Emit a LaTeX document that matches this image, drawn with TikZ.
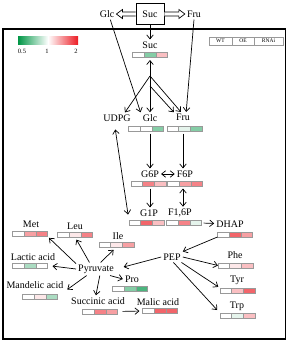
\documentclass[tikz,border=0pt]{standalone}
\usepackage{fontspec}
\setmainfont{Liberation Serif}
\usepackage{xcolor}
\usepackage{tikz}
\usetikzlibrary{arrows,arrows.meta,shapes,positioning,calc}

\definecolor{hired}{RGB}{236,28,36}
\definecolor{logreen}{RGB}{0,150,70}
\colorlet{r1}{hired!10}
\colorlet{r2}{hired!28}
\colorlet{r3}{hired!42}
\colorlet{r4}{hired!55}
\colorlet{r5}{hired!68}
\colorlet{g1}{logreen!10}
\colorlet{g2}{logreen!33}
\colorlet{g3}{logreen!48}
\colorlet{g4}{logreen!70}

\tikzset{
  lbl/.style={font=\fontsize{10}{12}\selectfont, inner sep=2pt},
  small lbl/.style={font=\fontsize{6.5}{8}\selectfont, inner sep=1pt},
  cell/.style={draw=gray!80, line width=0.4pt, minimum width=11.7pt,
    minimum height=5pt, inner sep=0pt, outer sep=0pt},
  keycell/.style={draw=gray!80, line width=0.5pt, minimum height=8pt,
    inner sep=0pt, outer sep=0pt, font=\fontsize{5.5}{6}\selectfont},
  arr/.style={-{Straight Barb[length=4pt,width=6.5pt]}, line width=0.7pt},
  darr/.style={{Straight Barb[length=4pt,width=6.5pt]}-{Straight Barb[length=4pt,width=6.5pt]}, line width=0.7pt},
  hollow/.style={line width=0.7pt, fill=white},
}

% barra de tres celulas: nome, centro, cores
\newcommand{\heatbar}[5]{%
  \node[cell,fill=#4] (#1-2) at (#2) {};
  \node[cell,fill=#3,left=0pt of #1-2] (#1-1) {};
  \node[cell,fill=#5,right=0pt of #1-2] (#1-3) {};
}

\begin{document}
\begin{tikzpicture}[x=1pt,y=-1pt]
        \useasboundingbox (0,0) rectangle (288,341);
        % moldura
        \draw[line width=1.1pt] (3,29) rectangle (285.5,339);
        % escala de cor
        \shade[left color=logreen, right color=white] (18,36) rectangle (48,44);
        \shade[left color=white, right color=hired] (48,36) rectangle (78,44);
        \foreach \n/\x/\t in {k05/22/0.5, k1/47/1, k2/76/2} {
          \node[small lbl] (\n) at (\x,51) {\t};
        }
        % legenda das linhas
        \node[keycell, draw, minimum width=23pt] (wt) at (220.5,41) {WT};
        \node[keycell, draw, minimum width=22pt, right=0pt of wt] (oe) {OE};
        \node[keycell, draw, minimum width=29pt, right=0pt of oe] (rnai) {RNAi};
        % sacarose externa
        \node[lbl, draw, line width=0.7pt, minimum width=28pt, minimum height=21pt] (sucout) at (150,14) {Suc};
        \node[lbl] (glcout) at (107,14) {Glc};
        \node[lbl] (fruout) at (194,14) {Fru};
        \draw[hollow] ($(sucout.west)+(0,-2)$) -- ($(glcout.east)+(6,-2)$) -- ++(0,-2.5)
          -- (glcout.east) -- ($(glcout.east)+(6,4.5)$) -- ++(0,-2.5) -- ($(sucout.west)+(0,2)$);
        \draw[hollow] ($(sucout.east)+(0,-2)$) -- ($(fruout.west)+(-6,-2)$) -- ++(0,-2.5)
          -- (fruout.west) -- ($(fruout.west)+(-6,4.5)$) -- ++(0,-2.5) -- ($(sucout.east)+(0,2)$);
        % metabolitos
        \foreach \n/\x/\y/\t in {suc/150/45/Suc, udpg/117/118/UDPG, glc/150/118/Glc,
            fru/183/117.5/Fru, g6p/150/174/G6P, f6p/185/174/F6P, g1p/149/213/G1P,
            f16p/180/213/{F1,6P}, dhap/230/224/DHAP, pep/172/257/PEP, phe/235/255/Phe,
            tyr/237/280/Tyr, trp/237/306/Trp, met/31/224/Met, leu/75/226/Leu,
            ile/118/236/Ile, lac/33/257/Lactic acid, mand/35/285/Mandelic acid,
            pyr/96/269/Pyruvate, pro/132/279/Pro, succ/98/301/Succinic acid,
            mal/158/302/Malic acid} {
          \node[lbl] (\n) at (\x,\y) {\t};
        }
        % barras WT / OE / RNAi
        \foreach \n/\x/\y/\a/\b/\c in {sucbar/150/54.5/white/g3/r2,
            glcbar/146/129/white/white/g3, frubar/184.5/129/white/g1/g3,
            g6pbar/148.5/184/white/r4/r2, f6pbar/185/184/white/r3/r4,
            g1pbar/146.5/223/white/r5/r2, f16pbar/184/223/white/r4/g1,
            dhapbar/235/234.5/white/r5/r3, phebar/235.5/265.5/white/r1/r2,
            tyrbar/237.5/290.5/white/r2/r5, trpbar/237.5/315.5/white/g1/r2,
            metbar/30/234/white/r3/r4, leubar/75/234.5/white/r1/r4,
            ilebar/116.5/244.5/white/r1/r3, lacbar/30/265.5/white/g2/white,
            mandbar/40/296.5/white/r1/g2, probar/130/288.5/white/g3/g4,
            succbar/100/311.5/white/r4/r3, malbar/160/311/white/r5/r5} {
          \heatbar{\n}{\x,\y}{\a}{\b}{\c}
        }
        % entrada de acucares
        \draw[arr] (sucout) -- (suc);
        \draw[arr] (glcout.-60) -- (glc.north west);
        \draw[arr] (fruout.south) -- (fru.60);
        % quebra da sacarose
        \coordinate (sus) at (150,76);
        \coordinate (inv) at (150,86);
        \draw[arr, shorten >=3pt] (sus) -- (sucbar-2.south);
        \draw[arr] (sus) -- (glc);
        \draw[arr] (sus) -- (udpg.35);
        \draw[arr] (sus) -- (fru.110);
        \draw[arr] (inv) -- (fru.150);
        % glicolise
        \draw[arr, shorten <=2pt] (glcbar-2.south -| glc) -- (g6p);
        \draw[arr, shorten <=2pt] (frubar-2.south -| fru) -- (fru |- f6p.north);
        \draw[darr] (g6p) -- (f6p);
        \draw[arr, shorten <=2pt] (g6pbar-2.south -| g6p) -- (g6p |- g1p.north);
        \draw[darr, shorten <=2pt] (f6pbar-2.south -| fru) -- (fru |- f16p.north);
        \draw[darr, shorten <=6pt, shorten >=6pt] (udpg.-115) -- (g1pbar-1.north west);
        \draw[arr, shorten <=2pt] (f16pbar-3.east) -- (dhap);
        \draw[arr] (dhapbar-1.south west) -- (pep.north east);
        % PEP
        \draw[arr, shorten >=8pt] (pep.west) -- (pyr.east);
        \draw[arr] (pep.east) -- (phebar-1.west);
        \draw[arr, shorten >=2pt] (pep.-30) -- (tyrbar-1.north west);
        \draw[arr, shorten >=4pt] (pep.-75) -- (trpbar-1.north west);
        % piruvato
        \draw[arr, shorten >=2pt] (pyr.165) -- (metbar-3.south east);
        \draw[arr, shorten >=3pt] (pyr.135) -- (leubar-2.south);
        \draw[arr, shorten >=5pt] (pyr.west) -- (lacbar-3.east);
        \draw[arr, shorten >=4pt] (pyr.55) -- (ilebar-2.south);
        \draw[arr] (pyr.-25) -- (pro.west);
        \draw[arr] (pyr.-60) -- (succ.110);
        \draw[arr, shorten >=2pt] (pyr.-145) -- (mand.south east);
        \draw[arr, shorten <=5pt, shorten >=3pt] (succbar-3.east) -- (malbar-1.west);
      \end{tikzpicture}
\end{document}
